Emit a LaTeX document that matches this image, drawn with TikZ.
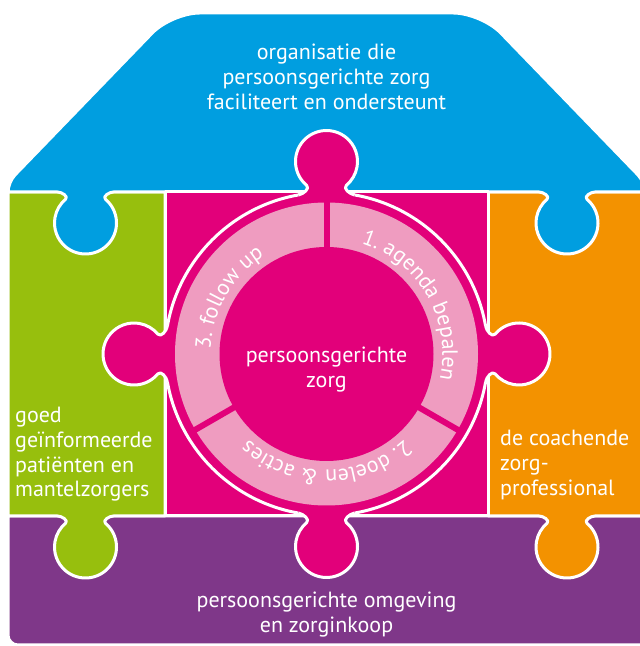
\documentclass[tikz,border=0pt]{standalone}
\usepackage{fontspec}
\setmainfont{PT Sans}
\usepackage{tikz}
\usetikzlibrary{calc}
\usetikzlibrary{decorations.text}
\definecolor{roofblue}{HTML}{009EE0}
\definecolor{leafgreen}{HTML}{97BF0D}
\definecolor{coachorange}{HTML}{F39200}
\definecolor{coremagenta}{HTML}{E2007A}
\definecolor{ringpink}{HTML}{EF9CC0}
\definecolor{basepurple}{HTML}{7F3789}
\tikzstyle{piece} = [draw=white, line width=3pt, line join=round]
\tikzstyle{whitetext} = [text=white, inner sep=0pt, font=\fontsize{22}{24.8}\selectfont]
\tikzstyle{ringtext} = [decorate, decoration={text along path, text align=center, text color=white}]
\newcommand{\ringsize}{\fontsize{22}{24}\selectfont}

% puzzle tab hanging down from a straight edge (edge run from right to left)
\newcommand{\tabdown}[2]{-- (#1+28,#2) to[out=180,in=140] (#1+19.93,#2-7.25)
  arc[start angle=50,end angle=-230,radius=31] to[out=40,in=0] (#1-28,#2)}

% puzzle tab sticking out of the round centre piece, #1 = direction
\newcommand{\circtab}[1]{%
  \pgfmathsetmacro\tbo{#1-80}\pgfmathsetmacro\tbi{#1-130}
  \pgfmathsetmacro\tco{#1+130}\pgfmathsetmacro\tci{#1+80}
  \begin{scope}[shift={(ctr)}]
    \fill[coremagenta] (#1+10:161.5) to[out=\tbo,in=\tbi] (#1+6.736:169.92)
      arc[start angle=#1+140,end angle=#1-140,radius=31]
      to[out=\tco,in=\tci] (#1-10:161.5) -- (#1-10:152) -- (#1+10:152) -- cycle;
    \draw[piece] (#1+10:161.5) to[out=\tbo,in=\tbi] (#1+6.736:169.92)
      arc[start angle=#1+140,end angle=#1-140,radius=31]
      to[out=\tco,in=\tci] (#1-10:161.5);
  \end{scope}}

\begin{document}
\begin{tikzpicture}[x=1pt,y=1pt]
\useasboundingbox (0,0) rectangle (640,646);
\clip (0,0) rectangle (640,646);
\coordinate (ctr) at (326.5,292);

% bottom piece
\filldraw[piece, fill=basepurple] (8,130) [rounded corners=10] -- (8,1) -- (650,1) [sharp corners] -- (650,130) -- cycle;
% side pieces
\filldraw[piece, fill=leafgreen] (8,454) -- (165,454) -- (165,130) \tabdown{85.5}{130} -- (8,130) -- cycle;
\filldraw[piece, fill=coachorange] (488,454) -- (650,454) -- (650,130) \tabdown{567}{130} -- (488,130) -- cycle;
% roof
\filldraw[piece, fill=roofblue] (8,454) [rounded corners=10] -- (8,463.8) [rounded corners=28] -- (171.6,633) -- (481.4,633) [rounded corners=10] -- (645,463.8) [sharp corners] -- (645,454) \tabdown{567}{454} \tabdown{85.5}{454} -- cycle;

% centre piece
\filldraw[piece, fill=coremagenta] (165,130) rectangle (488,454);
\filldraw[piece, fill=coremagenta] (ctr) circle[radius=161.5];
\circtab{90}
\circtab{180}
\circtab{270}
\circtab{0}

% ring with the three steps
\fill[ringpink] (ctr) circle[radius=151.5];
\fill[coremagenta] (ctr) circle[radius=107];
\foreach \a in {90,-30,210}
  \draw[coremagenta, line width=6pt] ($(ctr)+(\a:104)$) -- ($(ctr)+(\a:154)$);
\path[ringtext, decoration={text={|\ringsize|1. agenda bepalen}}] ($(ctr)+(90:116)$) arc[start angle=90,end angle=-30,radius=116];
\path[ringtext, decoration={text={|\ringsize|2. doelen {\&} acties}}] ($(ctr)+(-30:116)$) arc[start angle=-30,end angle=-150,radius=116];
\path[ringtext, decoration={text={|\ringsize|3. follow up}}] ($(ctr)+(210:116)$) arc[start angle=210,end angle=90,radius=116];

% texts
\node[whitetext, align=center, anchor=north] (roof) at (326.5,602) {organisatie die\\persoonsgerichte zorg\\faciliteert en ondersteunt};
\node[whitetext, align=left, anchor=north west] (patients) at (15,239) {goed\\geïnformeerde\\patiënten en\\mantelzorgers};
\node[whitetext, align=left, anchor=north west] (coach) at (500,216) {de coachende\\zorg-\\professional};
\node[whitetext, align=center, anchor=north] (core) at (326.5,299) {persoonsgerichte\\zorg};
\node[whitetext, align=center, anchor=north] (base) at (326.5,54.5) {persoonsgerichte omgeving\\en zorginkoop};
\end{tikzpicture}
\end{document}
